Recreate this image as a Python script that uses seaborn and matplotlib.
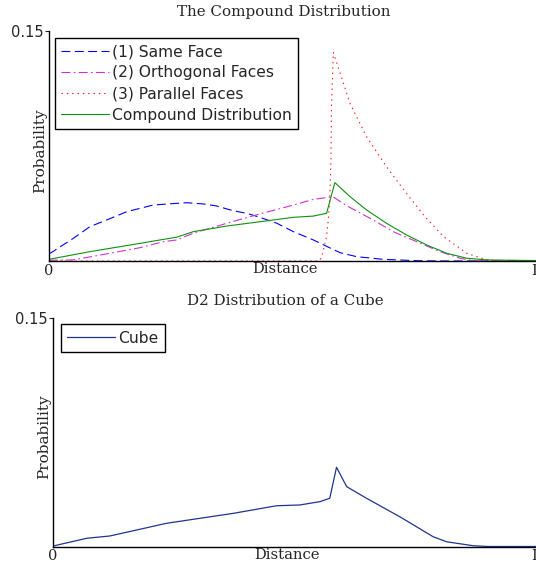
import numpy as np
import pandas as pd
import matplotlib
matplotlib.use("Agg")
import matplotlib.pyplot as plt
import seaborn as sns

# ---------------- data (distance normalised to [0, L]) ----------------
same_x = [0.0, 0.050, 0.084, 0.118, 0.160, 0.214, 0.262, 0.283, 0.317, 0.344, 0.378,
          0.406, 0.433, 0.468, 0.502, 0.543, 0.577, 0.598, 0.632, 0.686, 0.755, 0.80, 1.0]
same_y = [0.0045, 0.0148, 0.0224, 0.0267, 0.0322, 0.0365, 0.0376, 0.0380, 0.0372, 0.0359, 0.0328,
          0.0311, 0.0285, 0.0246, 0.0191, 0.0137, 0.0085, 0.0054, 0.0028, 0.0011, 0.0002, 0.0, 0.0]

orth_x = [0.0, 0.049, 0.118, 0.187, 0.235, 0.262, 0.296, 0.365, 0.433, 0.502, 0.543, 0.583,
          0.604, 0.615, 0.666, 0.707, 0.755, 0.803, 0.844, 0.871, 0.90, 1.0]
orth_y = [0.0005, 0.0007, 0.0046, 0.0087, 0.0126, 0.0137, 0.0181, 0.0246, 0.0307, 0.0365, 0.0402, 0.0419,
          0.0376, 0.0354, 0.0267, 0.0191, 0.0126, 0.0061, 0.0018, 0.0002, 0.0, 0.0]

par_x = [0.0, 0.555, 0.560, 0.570, 0.574, 0.577, 0.579, 0.580, 0.584, 0.591, 0.618, 0.652,
         0.693, 0.734, 0.772, 0.810, 0.858, 0.899, 0.93, 1.0]
par_y = [0.0, 0.0, 0.0028, 0.0159, 0.029, 0.044, 0.066, 0.1006, 0.136, 0.129, 0.1028, 0.0811,
         0.0615, 0.0441, 0.0289, 0.0159, 0.005, 0.0007, 0.0, 0.0]

comp_x = [0.0, 0.084, 0.187, 0.235, 0.262, 0.296, 0.365, 0.433, 0.502, 0.543, 0.570, 0.587,
          0.618, 0.652, 0.693, 0.734, 0.776, 0.817, 0.858, 0.899, 1.0]
comp_y = [0.0011, 0.0061, 0.0115, 0.0141, 0.0155, 0.0191, 0.0228, 0.0256, 0.0285, 0.0293, 0.0311, 0.0511,
          0.042, 0.0333, 0.0246, 0.0170, 0.0104, 0.0050, 0.0018, 0.0007, 0.0003]

cube_x = [0.0, 0.070, 0.118, 0.235, 0.373, 0.463, 0.511, 0.553, 0.573, 0.587, 0.608, 0.649,
          0.718, 0.787, 0.815, 0.870, 0.90, 1.0]
cube_y = [0.0003, 0.0054, 0.0069, 0.0152, 0.0217, 0.0267, 0.0272, 0.0294, 0.0316, 0.0519, 0.0392, 0.0316,
          0.0195, 0.0064, 0.0031, 0.0005, 0.0, 0.0]

labels_top = ["(1) Same Face", "(2) Orthogonal Faces", "(3) Parallel Faces", "Compound Distribution"]
x_ticks = [0, 1]
x_ticklabels = ["0", "L"]
y_ticks = [0.15]
y_ticklabels = ["0.15"]

# ---------------- styling ----------------
sns.set_style("ticks")
plt.rcParams["font.family"] = ["DejaVu Serif"]
plt.rcParams["font.size"] = 10

fig = plt.figure(figsize=(5.36, 5.69), dpi=100)
W, H = 536, 569
ax1 = fig.add_axes([49 / W, 1 - 261 / H, 487 / W, 230 / H])
ax2 = fig.add_axes([53 / W, 1 - 546.5 / H, 483 / W, 229 / H])

lw = 0.8
series = [
    (same_x, same_y, labels_top[0], "#0000ff", (0, (8, 4))),
    (orth_x, orth_y, labels_top[1], "#cc33cc", (0, (8, 3, 1.5, 3))),
    (par_x, par_y, labels_top[2], "#ff2020", (0, (1.3, 3.5))),
    (comp_x, comp_y, labels_top[3], "#109010", "-"),
]
for xs, ys, lab, col, ls in series:
    df = pd.DataFrame({"Distance": xs, "Probability": ys})
    sns.lineplot(data=df, x="Distance", y="Probability", ax=ax1, color=col,
                 linestyle=ls, linewidth=lw, label=lab, sort=False, estimator=None)

df_cube = pd.DataFrame({"Distance": cube_x, "Probability": cube_y})
sns.lineplot(data=df_cube, x="Distance", y="Probability", ax=ax2, color="#1f3590",
             linewidth=lw + 0.1, label="Cube", sort=False, estimator=None)

for ax, title, leg_x, tpad in [(ax1, "The Compound Distribution", 0.012, 10.5),
                               (ax2, "D2 Distribution of a Cube", 0.0166, 9)]:
    ax.set_xlim(0, 1)
    ax.set_ylim(0, 0.15)
    ax.set_xticks(x_ticks)
    ax.set_xticklabels(x_ticklabels)
    ax.set_yticks(y_ticks)
    ax.set_yticklabels(y_ticklabels, family="DejaVu Sans")
    ax.tick_params(axis="x", length=0, pad=2, labelsize=10.5)
    ax.tick_params(axis="y", length=3, width=0.8, direction="out", pad=1, labelsize=10.5)
    for s in ["top", "right"]:
        ax.spines[s].set_visible(False)
    for s in ["left", "bottom"]:
        ax.spines[s].set_linewidth(1.0)
        ax.spines[s].set_color("black")
    ax.set_xlabel("Distance", fontsize=10.6)
    ax.xaxis.set_label_coords(0.485, -0.005)
    ax.set_ylabel("Probability", fontsize=11)
    ax.yaxis.set_label_coords(-0.003, 0.48)
    ax.set_title(title, fontsize=10.9, x=0.482, pad=tpad)
    leg = ax.legend(loc="upper left", bbox_to_anchor=(leg_x, 0.97), borderaxespad=0,
                    frameon=True, fancybox=False, framealpha=1, edgecolor="black",
                    handlelength=3.1, handletextpad=0.2, labelspacing=0.4,
                    borderpad=0.4, prop={"family": "DejaVu Sans", "size": 11.2})
    leg.get_frame().set_linewidth(1.0)

fig.savefig("out.png", dpi=100)
